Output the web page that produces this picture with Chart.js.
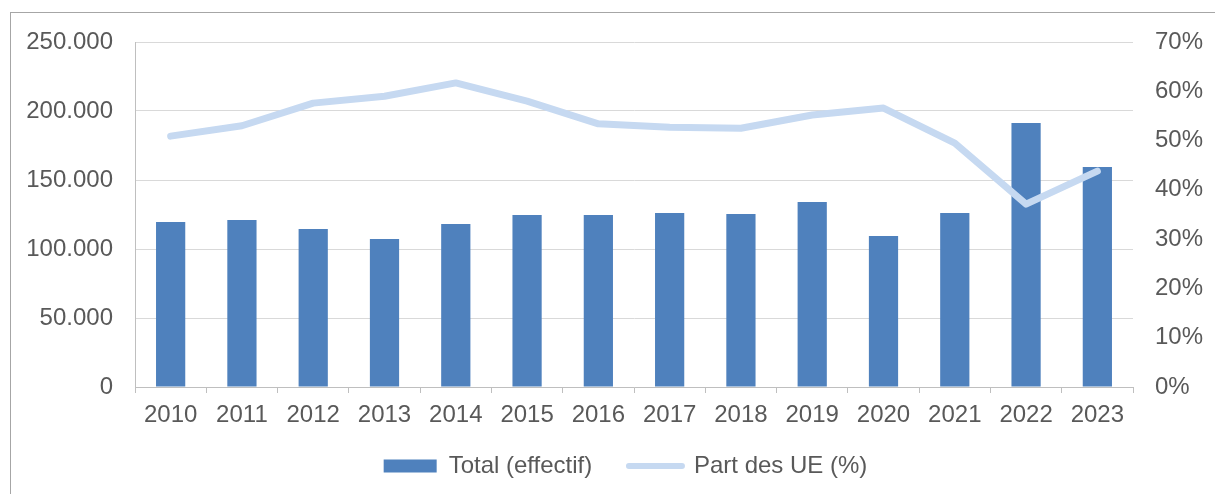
<!doctype html>
<html lang="fr">
<head>
<meta charset="utf-8">
<title>Total (effectif) et Part des UE (%)</title>
<script src="https://cdn.jsdelivr.net/npm/chart.js@4/dist/chart.umd.min.js"></script>
<style>
  html, body { margin: 0; padding: 0; background: #fff; overflow: hidden; }
  #frame { position: absolute; left: 10px; top: 12px; width: 1300px; height: 600px;
           border-left: 1px solid #a6a6a6; border-top: 1px solid #a6a6a6; }
  #wrap { position: absolute; left: 0; top: 0; width: 1215px; height: 494px; }
</style>
</head>
<body>
<div id="frame"></div>
<div id="wrap"><canvas id="chart"></canvas></div>
<script>
// donnees
var annees = ['2010', '2011', '2012', '2013', '2014', '2015', '2016', '2017', '2018', '2019', '2020', '2021', '2022', '2023'];
var total = [119500, 121000, 114500, 107200, 118100, 124600, 124600, 126100, 125400, 134100, 109400, 126100, 191300, 159400];
var partUE = [50.9, 53.0, 57.6, 59.0, 61.7, 58.0, 53.4, 52.7, 52.5, 55.2, 56.6, 49.5, 37.1, 43.8];

var gris = '#595959';
var police = { family: 'Liberation Sans, Arial, sans-serif', size: 24 };

function milliers(v) {
    return String(v).replace(/\B(?=(\d{3})+(?!\d))/g, '.');
}

new Chart(document.getElementById('chart'), {
    type: 'bar',
    data: {
        labels: annees,
        datasets: [{
            type: 'bar',
            label: 'Total (effectif)',
            data: total,
            backgroundColor: '#4f81bd',
            borderWidth: 0,
            barPercentage: 0.41,
            categoryPercentage: 1,
            yAxisID: 'y',
            order: 2
        }, {
            type: 'line',
            label: 'Part des UE (%)',
            data: partUE,
            borderColor: '#c6d9f1',
            backgroundColor: '#c6d9f1',
            borderWidth: 7,
            borderCapStyle: 'round',
            borderJoinStyle: 'round',
            pointRadius: 0,
            tension: 0,
            yAxisID: 'y1',
            order: 1
        }]
    },
    options: {
        responsive: true,
        maintainAspectRatio: false,
        animation: false,
        // padding droite negative : recentre la legende comme dans l'original
        layout: { padding: { left: 24, right: -12, top: 42, bottom: 6 } },
        plugins: {
            tooltip: { enabled: false },
            legend: {
                position: 'bottom',
                labels: {
                    color: gris,
                    font: police,
                    usePointStyle: true,
                    pointStyleWidth: 53,
                    boxHeight: 13,
                    padding: 10,
                    sort: function (a, b) { return a.datasetIndex - b.datasetIndex; },
                    generateLabels: function (chart) {
                        var items = Chart.defaults.plugins.legend.labels.generateLabels(chart);
                        items.forEach(function (it) {
                            if (it.datasetIndex === 0) {
                                it.pointStyle = 'rect';
                                it.fillStyle = '#4f81bd';
                                it.lineWidth = 0;
                                it.text = it.text + '    ';
                            } else {
                                it.pointStyle = 'line';
                                it.strokeStyle = '#c6d9f1';
                                it.lineWidth = 6;
                                it.lineCap = 'round';
                            }
                        });
                        return items;
                    }
                }
            }
        },
        scales: {
            x: {
                grid: { offset: true, drawOnChartArea: false, color: '#bfbfbf', tickLength: 6 },
                border: { color: '#bfbfbf' },
                ticks: { color: gris, font: police, padding: 8, maxRotation: 0 },
                afterFit: function (s) { s.height = 57; }
            },
            y: {
                position: 'left',
                min: 0,
                max: 250000,
                ticks: { stepSize: 50000, color: gris, font: police, padding: 22, callback: milliers },
                grid: { color: '#d9d9d9', drawTicks: false },
                border: { color: '#bfbfbf' },
                afterFit: function (s) { s.width = 111; }
            },
            y1: {
                position: 'right',
                min: 0,
                max: 70,
                ticks: { stepSize: 10, color: gris, font: police, padding: 22, callback: function (v) { return v + '%'; } },
                grid: { drawOnChartArea: false, drawTicks: false },
                border: { display: false },
                afterFit: function (s) { s.width = 94; }
            }
        }
    }
});
</script>
</body>
</html>
